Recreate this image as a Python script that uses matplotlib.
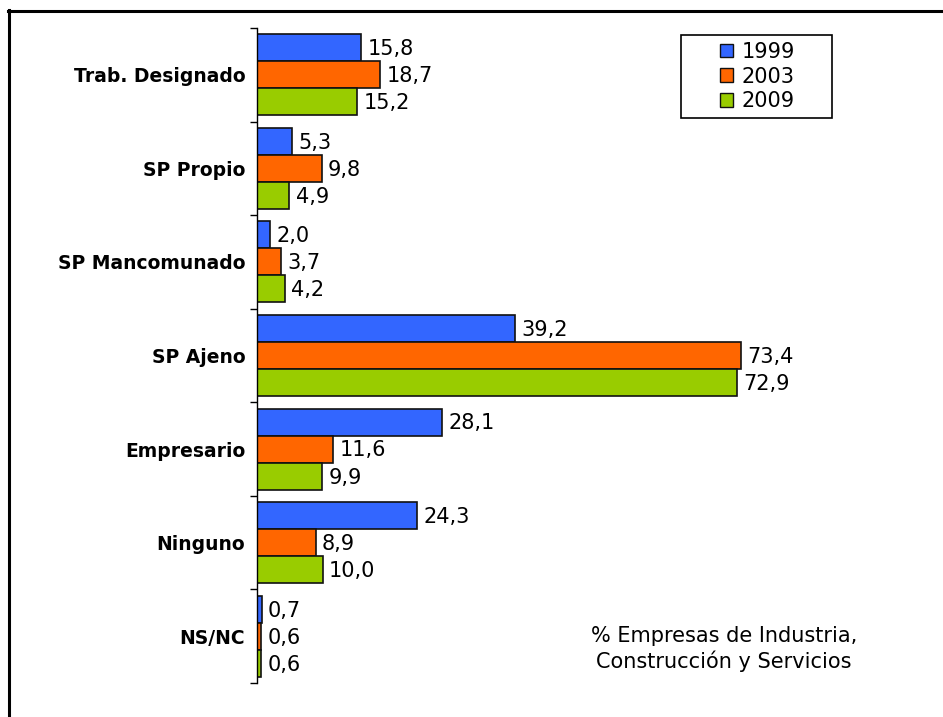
import matplotlib
matplotlib.use("Agg")
import matplotlib.pyplot as plt
from matplotlib.lines import Line2D
from matplotlib.patches import Rectangle
import numpy as np

categories = ["Trab. Designado", "SP Propio", "SP Mancomunado", "SP Ajeno",
              "Empresario", "Ninguno", "NS/NC"]
series_names = ["1999", "2003", "2009"]
v1999 = [15.8, 5.3, 2.0, 39.2, 28.1, 24.3, 0.7]
v2003 = [18.7, 9.8, 3.7, 73.4, 11.6, 8.9, 0.6]
v2009 = [15.2, 4.9, 4.2, 72.9, 9.9, 10.0, 0.6]
colors = ["#3366FF", "#FF6600", "#99CC00"]
note = "% Empresas de Industria,\nConstrucción y Servicios"

plt.rcParams['font.family'] = ['DejaVu Sans']

W, H = 943, 717
fig = plt.figure(figsize=(W/100, H/100), dpi=100)
ax = fig.add_axes([257/W, 1-683/H, (900-257)/W, (683-28)/H])

n = len(categories)
ypos = np.arange(n)
bh = 0.289
data = [v1999, v2003, v2009]
for i, (vals, c, name) in enumerate(zip(data, colors, series_names)):
    y = ypos + (i-1)*bh
    ax.barh(y, vals, height=bh, color=c, edgecolor='#111111', linewidth=1.2, label=name)
    for yy, v in zip(y, vals):
        ax.annotate(f"{v:.1f}".replace('.', ','), xy=(v, yy), xytext=(4.5, -1),
                    textcoords='offset points', va='center', ha='left', fontsize=15)

ax.set_ylim(n-0.5, -0.5)
ax.set_xlim(0, (900-257)/6.59)
ax.set_yticks(ypos)
ax.set_yticklabels(categories, fontweight='bold', fontsize=13.5)
ax.tick_params(axis='y', which='major', length=0, pad=8.5)
ax.set_yticks(np.arange(-0.5, n, 1), minor=True)
ax.tick_params(axis='y', which='minor', length=5, width=1, direction='out')
ax.set_xticks([])
for s in ['top', 'right', 'bottom']:
    ax.spines[s].set_visible(False)
ax.spines['left'].set_linewidth(1)

# legend box
bx0, bx1, by0, by1 = 681, 832, 35, 118
fig.add_artist(Rectangle((bx0/W, 1-by1/H), (bx1-bx0)/W, (by1-by0)/H,
                         transform=fig.transFigure, facecolor='white',
                         edgecolor='black', linewidth=1.2, zorder=5))
leg = fig.legend(*ax.get_legend_handles_labels(), loc='center',
                 bbox_to_anchor=((bx0+bx1)/2/W + 0.001, 1-(by0+by1)/2/H),
                 fontsize=15, frameon=False,
                 handlelength=0.62, handleheight=0.62, handletextpad=0.4,
                 borderpad=0, labelspacing=0.22, borderaxespad=0)
leg.set_zorder(6)
for h in leg.legend_handles:
    h.set_linewidth(1)

fig.text(724/W, 1-649/H, note, ha='center', va='center', fontsize=15, linespacing=1.2)

# outer frame (top and left visible)
fig.add_artist(Line2D([8/W, 1], [1-11/H, 1-11/H], color='black', linewidth=2.2,
                      transform=fig.transFigure))
fig.add_artist(Line2D([9/W, 9/W], [1-10/H, 0], color='black', linewidth=2.2,
                      transform=fig.transFigure))

fig.savefig("out.png", dpi=100)
